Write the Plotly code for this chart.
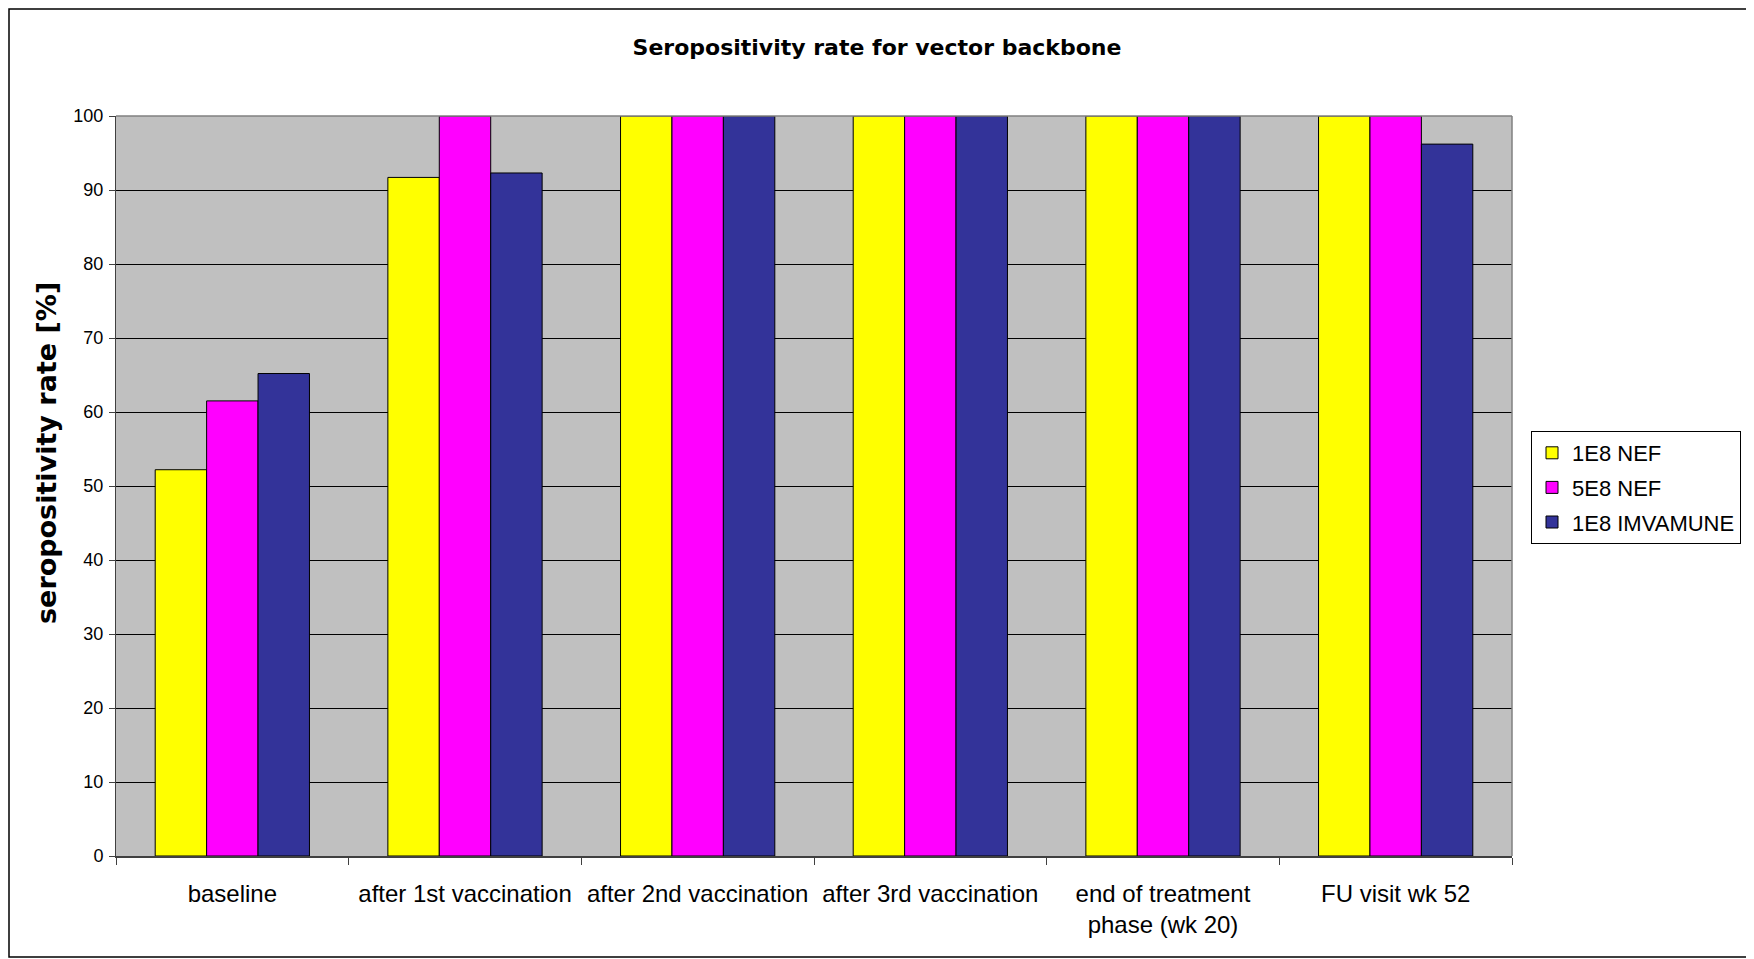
import plotly.graph_objects as go

# ---- data ----
categories = ["baseline", "after 1st vaccination", "after 2nd vaccination",
              "after 3rd vaccination", "end of treatment<br>phase (wk 20)", "FU visit wk 52"]
series_names = ["1E8 NEF", "5E8 NEF", "1E8 IMVAMUNE"]
nef_1e8 = [52.2, 91.7, 100, 100, 100, 100]
nef_5e8 = [61.5, 100, 100, 100, 100, 100]
imvamune_1e8 = [65.2, 92.3, 100, 100, 100, 96.2]
y_ticks = [0, 10, 20, 30, 40, 50, 60, 70, 80, 90, 100]

colors = ["#FFFF00", "#FF00FF", "#333399"]

OFF = 8  # default body margin of the html page
W, H = 1754 - OFF, 959 - OFF
# plot area in page pixels: x 116..1512, y 116..856
L, T = 116 - OFF, 116 - OFF
R = W - (1512 - OFF)
B = H - (856 - OFF)
PW, PH = W - L - R, H - T - B

fig = go.Figure()
for name, vals, col in zip(series_names, [nef_1e8, nef_5e8, imvamune_1e8], colors):
    fig.add_trace(go.Bar(x=categories, y=vals, name=name, legendgroup=name,
                         marker=dict(color=col, line=dict(color="black", width=1))))

def px_x(p):  # page pixel -> paper coordinate
    return (p - OFF - L) / PW

def px_y(p):
    return (H - B - (p - OFF)) / PH

fig.update_layout(
    width=W, height=H,
    margin=dict(l=L, r=R, t=T, b=B, autoexpand=False),
    paper_bgcolor="white",
    plot_bgcolor="#C0C0C0",
    barmode="group",
    bargap=0.337,
    bargroupgap=0,
    font=dict(family="Liberation Sans, Arial, sans-serif", color="black"),
    title=dict(text="<b>Seropositivity rate for vector backbone</b>",
               font=dict(family="DejaVu Sans", size=22, color="black"),
               x=(877 - OFF) / W, xref="container", xanchor="center",
               y=1 - (47 - OFF) / H, yref="container", yanchor="middle"),
    showlegend=True,
    legend=dict(x=px_x(1531), xanchor="left", y=px_y(431), yanchor="top",
                bgcolor="white", bordercolor="black", borderwidth=1,
                font=dict(family="Liberation Sans", size=22, color="black"),
                tracegroupgap=3, itemwidth=30),
    shapes=[dict(type="rect", xref="paper", yref="paper",
                 x0=px_x(OFF + 1), x1=px_x(1751), y0=px_y(957), y1=px_y(OFF + 1),
                 line=dict(color="black", width=1.5), fillcolor="rgba(0,0,0,0)",
                 layer="below")],
    annotations=[dict(text="<b>seropositivity rate [%]</b>", textangle=-90,
                      xref="paper", yref="paper", x=px_x(46), y=px_y(453),
                      xanchor="center", yanchor="middle", showarrow=False,
                      font=dict(family="DejaVu Sans", size=27, color="black"))],
)

fig.update_xaxes(
    type="category", tickangle=0,
    tickfont=dict(family="Liberation Sans", size=24, color="black"),
    ticks="outside", ticklen=7, tickcolor="#404040", tickson="boundaries",
    ticklabelstandoff=15,
    showline=True, linecolor="#404040", linewidth=2,
    showgrid=False, automargin=False,
)
fig.update_yaxes(
    range=[0, 100], tickvals=y_ticks,
    tickfont=dict(family="Liberation Sans", size=18, color="black"),
    ticks="outside", ticklen=6, tickcolor="#404040", ticklabelstandoff=2,
    showline=True, linecolor="#404040", linewidth=1,
    showgrid=True, gridcolor="black", gridwidth=1,
    zeroline=False, automargin=False,
)
# grey frame on top/right of plot area
fig.add_shape(type="line", xref="paper", yref="paper", x0=0, x1=1, y0=1, y1=1,
              line=dict(color="#808080", width=1.5))
fig.add_shape(type="line", xref="paper", yref="paper", x0=1, x1=1, y0=0, y1=1,
              line=dict(color="#808080", width=1.5))

fig.write_html("out.html")
